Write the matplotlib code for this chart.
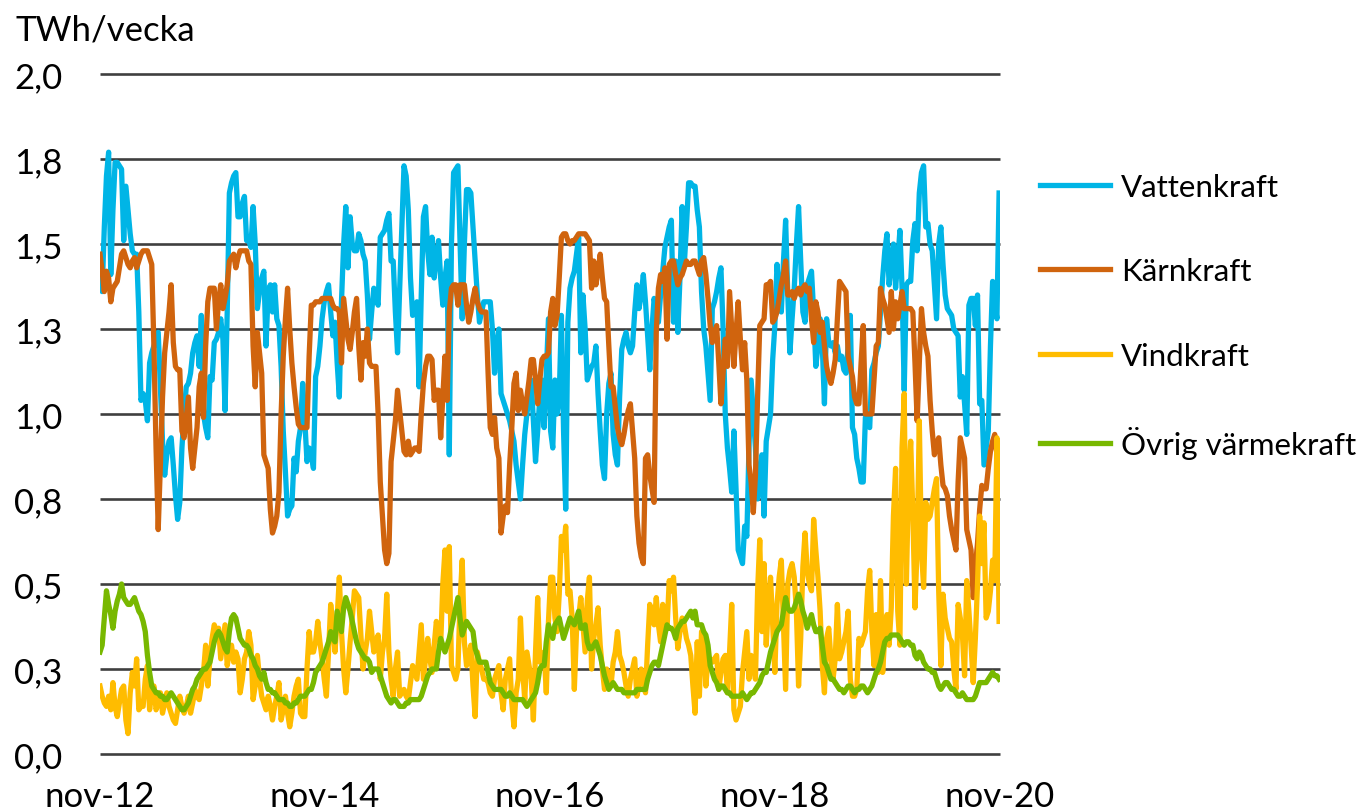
"""
Veckoproduktion per kraftslag, nov-12 -- nov-20 (TWh/vecka).
Writes out.png (1360x812).
"""
import matplotlib
matplotlib.use("Agg")  # headless
import matplotlib.dates as mdates
import matplotlib.pyplot as plt
import numpy as np
import pandas as pd
from matplotlib.ticker import FuncFormatter

plt.rcParams["font.family"] = ["Lato", "DejaVu Sans"]

START = "2012-11-01"
END = "2020-11-01"

# weekly values, TWh/vecka x 100
vattenkraft = [
    143, 136, 155, 170, 177, 141, 160, 174, 174, 173, 172, 151, 167, 160, 153, 148, 147, 147, 130, 104,
    106, 104, 98, 115, 118, 120, 122, 124, 108, 92, 82, 88, 92, 93, 85, 76, 69, 74, 90, 100,
    108, 109, 112, 118, 121, 123, 114, 129, 100, 96, 93, 111, 110, 121, 122, 124, 128, 122, 101, 130,
    165, 168, 170, 171, 158, 158, 162, 164, 151, 151, 149, 161, 150, 131, 136, 140, 142, 120, 136, 138,
    130, 138, 128, 126, 114, 95, 83, 70, 72, 73, 87, 83, 92, 96, 109, 98, 86, 90, 88, 84,
    111, 114, 120, 128, 133, 136, 138, 130, 123, 127, 115, 105, 133, 150, 161, 143, 158, 150, 148, 148,
    153, 151, 147, 145, 135, 122, 130, 137, 134, 132, 152, 153, 154, 157, 159, 145, 145, 130, 118, 137,
    155, 173, 170, 160, 140, 129, 131, 133, 108, 135, 158, 161, 148, 141, 152, 140, 146, 151, 140, 132,
    140, 145, 88, 150, 171, 172, 173, 150, 128, 150, 166, 166, 165, 155, 145, 135, 127, 130, 133, 133,
    133, 133, 125, 112, 120, 125, 106, 104, 102, 100, 98, 95, 92, 85, 80, 75, 85, 94, 100, 105,
    110, 98, 86, 95, 105, 110, 96, 112, 128, 95, 90, 110, 100, 105, 129, 95, 72, 127, 137, 140,
    142, 147, 152, 118, 135, 125, 110, 112, 114, 115, 120, 106, 95, 85, 81, 100, 109, 112, 94, 88,
    85, 105, 119, 122, 124, 120, 118, 120, 130, 138, 131, 135, 141, 133, 123, 113, 125, 134, 130, 127,
    135, 142, 149, 152, 155, 157, 127, 145, 124, 140, 161, 144, 155, 168, 168, 167, 167, 160, 155, 136,
    125, 120, 112, 104, 131, 133, 136, 140, 143, 125, 100, 90, 84, 77, 95, 78, 60, 58, 56, 67,
    64, 90, 110, 100, 90, 75, 80, 88, 70, 92, 96, 100, 116, 126, 144, 136, 130, 145, 157, 135,
    118, 128, 137, 150, 161, 145, 130, 127, 138, 140, 142, 130, 114, 120, 128, 120, 103, 128, 121, 120,
    121, 118, 120, 116, 117, 113, 112, 120, 129, 96, 94, 87, 84, 80, 80, 99, 97, 96, 113, 115,
    118, 120, 130, 140, 148, 153, 138, 145, 150, 137, 145, 154, 137, 107, 138, 139, 139, 151, 156, 148,
    165, 171, 173, 155, 156, 150, 148, 138, 128, 150, 155, 144, 135, 131, 130, 129, 125, 124, 123, 105,
    111, 103, 94, 132, 134, 134, 126, 135, 103, 104, 85, 90, 95, 120, 139, 133, 128, 165,
]

karnkraft = [
    147, 142, 136, 142, 140, 133, 137, 138, 139, 143, 147, 148, 146, 144, 143, 145, 146, 143, 145, 147,
    148, 148, 148, 146, 144, 120, 90, 66, 85, 105, 118, 124, 130, 138, 121, 114, 113, 113, 95, 93,
    99, 105, 90, 84, 90, 96, 108, 112, 99, 120, 133, 137, 137, 137, 125, 133, 138, 131, 134, 138,
    145, 146, 147, 143, 146, 148, 148, 148, 148, 145, 144, 120, 108, 124, 118, 112, 88, 86, 84, 72,
    65, 67, 70, 77, 100, 117, 128, 137, 125, 115, 108, 102, 97, 96, 96, 96, 96, 117, 132, 132,
    133, 133, 133, 134, 134, 134, 134, 134, 132, 131, 131, 130, 115, 134, 128, 122, 119, 124, 130, 134,
    120, 110, 121, 117, 125, 115, 114, 114, 114, 100, 80, 70, 60, 56, 59, 86, 92, 98, 107, 101,
    95, 89, 88, 92, 88, 89, 90, 90, 89, 100, 109, 114, 117, 117, 116, 104, 107, 107, 93, 105,
    117, 104, 130, 137, 138, 138, 132, 138, 138, 138, 132, 127, 130, 134, 137, 133, 131, 130, 130, 130,
    112, 96, 94, 99, 90, 87, 65, 70, 73, 71, 85, 96, 109, 112, 101, 107, 103, 100, 105, 110,
    116, 116, 110, 103, 110, 116, 117, 117, 118, 130, 134, 126, 129, 140, 152, 153, 153, 151, 150, 151,
    151, 152, 153, 153, 153, 153, 152, 151, 137, 145, 138, 142, 147, 140, 134, 133, 120, 108, 108, 102,
    96, 93, 91, 94, 98, 101, 103, 95, 87, 70, 62, 58, 56, 87, 88, 82, 78, 74, 124, 137,
    141, 139, 143, 122, 144, 145, 145, 141, 138, 140, 141, 143, 145, 144, 144, 145, 145, 143, 141, 145,
    146, 141, 134, 126, 121, 124, 126, 115, 103, 112, 122, 114, 136, 125, 114, 124, 133, 122, 113, 121,
    110, 85, 80, 71, 82, 105, 126, 127, 128, 138, 138, 139, 127, 128, 130, 134, 138, 141, 145, 135,
    135, 136, 134, 136, 137, 135, 137, 138, 136, 137, 128, 121, 133, 130, 124, 127, 120, 114, 111, 109,
    112, 116, 128, 139, 138, 137, 136, 117, 114, 111, 105, 103, 103, 115, 126, 100, 100, 100, 100, 110,
    120, 121, 137, 134, 132, 128, 124, 136, 125, 133, 128, 132, 136, 131, 131, 131, 131, 130, 115, 98,
    115, 131, 124, 120, 117, 104, 95, 88, 91, 93, 85, 79, 78, 76, 70, 66, 63, 60, 80, 93,
    90, 87, 66, 63, 60, 46, 55, 62, 72, 79, 78, 78, 84, 89, 92, 94, 88, 83,
]

vindkraft = [
    20, 17, 15, 14, 17, 13, 21, 14, 11, 15, 19, 20, 10, 6, 18, 24, 20, 28, 13, 14,
    14, 22, 26, 13, 18, 20, 13, 15, 18, 12, 15, 18, 14, 12, 10, 9, 13, 17, 14, 12,
    14, 17, 12, 15, 19, 17, 16, 20, 24, 32, 20, 28, 34, 38, 36, 37, 28, 33, 38, 26,
    30, 32, 27, 30, 28, 18, 22, 28, 30, 36, 32, 16, 20, 29, 22, 17, 15, 13, 17, 14,
    10, 14, 17, 21, 10, 13, 17, 12, 8, 12, 17, 20, 22, 12, 11, 11, 25, 36, 30, 30,
    33, 39, 33, 28, 22, 17, 30, 44, 38, 30, 40, 52, 36, 25, 18, 25, 33, 40, 48, 47,
    46, 35, 25, 30, 34, 42, 36, 30, 33, 35, 22, 30, 34, 47, 30, 22, 17, 25, 30, 17,
    18, 19, 17, 16, 21, 26, 24, 22, 30, 38, 22, 28, 34, 28, 24, 32, 39, 35, 32, 50,
    60, 42, 61, 26, 24, 22, 25, 45, 57, 33, 26, 28, 32, 20, 11, 30, 27, 25, 22, 22,
    21, 18, 17, 22, 24, 26, 18, 13, 22, 25, 28, 15, 8, 18, 22, 40, 25, 16, 30, 26,
    22, 10, 30, 46, 27, 29, 30, 18, 39, 52, 52, 40, 36, 47, 64, 60, 67, 47, 48, 40,
    19, 36, 40, 46, 38, 30, 45, 52, 25, 34, 38, 43, 32, 25, 19, 25, 22, 20, 27, 30,
    36, 29, 27, 24, 20, 17, 22, 25, 28, 17, 20, 25, 22, 18, 32, 44, 40, 38, 46, 38,
    33, 44, 40, 37, 51, 48, 52, 40, 31, 36, 40, 38, 34, 32, 29, 20, 12, 33, 17, 36,
    35, 20, 28, 28, 27, 28, 29, 19, 24, 28, 29, 18, 30, 44, 13, 10, 12, 14, 24, 30,
    36, 22, 29, 26, 22, 48, 63, 36, 56, 32, 44, 52, 38, 24, 44, 52, 57, 38, 19, 50,
    54, 56, 52, 42, 20, 34, 55, 65, 54, 50, 48, 69, 60, 52, 42, 26, 18, 34, 37, 28,
    22, 28, 44, 28, 30, 33, 36, 42, 22, 17, 17, 19, 34, 32, 34, 36, 48, 54, 36, 26,
    41, 24, 51, 24, 35, 41, 32, 43, 70, 84, 42, 32, 90, 106, 50, 80, 92, 71, 43, 61,
    98, 60, 49, 74, 69, 70, 74, 78, 81, 48, 26, 47, 40, 37, 34, 33, 25, 19, 44, 40,
    35, 23, 51, 42, 32, 21, 34, 50, 70, 56, 68, 40, 42, 48, 57, 51, 93, 39,
]

ovrig_varmekraft = [
    30, 32, 40, 48, 44, 41, 37, 42, 45, 47, 50, 46, 45, 44, 44, 45, 46, 44, 42, 41,
    39, 36, 29, 24, 20, 19, 18, 18, 17, 17, 16, 16, 17, 18, 17, 16, 15, 14, 13, 13,
    14, 15, 17, 19, 20, 22, 23, 24, 25, 25, 26, 27, 30, 33, 35, 36, 35, 33, 31, 30,
    36, 40, 41, 40, 37, 34, 33, 32, 32, 31, 29, 28, 26, 25, 23, 22, 24, 21, 19, 19,
    18, 18, 17, 16, 16, 16, 15, 15, 14, 14, 15, 15, 16, 17, 17, 17, 18, 19, 19, 21,
    24, 25, 26, 27, 29, 31, 33, 36, 34, 33, 42, 39, 36, 43, 46, 44, 42, 39, 36, 33,
    31, 30, 29, 28, 28, 27, 24, 25, 25, 25, 23, 21, 19, 17, 16, 15, 16, 16, 15, 14,
    14, 14, 15, 15, 16, 16, 16, 16, 16, 17, 19, 21, 23, 24, 25, 25, 25, 30, 34, 32,
    30, 32, 34, 37, 40, 43, 46, 40, 35, 37, 39, 38, 37, 36, 31, 29, 27, 27, 27, 27,
    24, 21, 20, 19, 19, 19, 19, 18, 17, 17, 18, 17, 16, 16, 16, 16, 16, 15, 14, 15,
    16, 17, 18, 21, 25, 26, 26, 33, 38, 36, 34, 38, 39, 40, 37, 34, 36, 38, 40, 39,
    38, 40, 42, 37, 37, 38, 33, 31, 31, 32, 33, 31, 29, 26, 23, 21, 19, 20, 21, 20,
    19, 19, 19, 18, 18, 18, 18, 18, 18, 19, 19, 19, 19, 19, 22, 24, 26, 27, 27, 26,
    29, 32, 35, 38, 37, 37, 36, 34, 37, 38, 39, 39, 40, 41, 42, 40, 42, 38, 38, 38,
    36, 35, 32, 26, 24, 22, 21, 19, 20, 20, 19, 18, 18, 17, 17, 17, 17, 17, 18, 17,
    16, 17, 18, 18, 19, 20, 21, 23, 24, 24, 27, 30, 32, 34, 36, 37, 38, 42, 46, 43,
    42, 42, 43, 45, 47, 45, 42, 40, 37, 39, 41, 38, 36, 36, 37, 32, 27, 26, 24, 22,
    22, 21, 20, 19, 19, 18, 19, 20, 20, 19, 18, 19, 19, 20, 20, 19, 18, 19, 20, 22,
    24, 25, 27, 30, 33, 34, 34, 35, 35, 35, 35, 34, 33, 32, 33, 33, 32, 32, 29, 28,
    30, 29, 27, 26, 25, 25, 24, 24, 22, 20, 19, 20, 21, 21, 20, 19, 19, 18, 17, 17,
    18, 17, 16, 16, 16, 16, 17, 19, 21, 21, 21, 21, 22, 23, 24, 23, 23, 22,
]

series_names = ["Vattenkraft", "Kärnkraft", "Vindkraft", "Övrig värmekraft"]
y_ticks = [0.0, 0.25, 0.5, 0.75, 1.0, 1.25, 1.5, 1.75, 2.0]
y_labels = ["0,0", "0,3", "0,5", "0,8", "1,0", "1,3", "1,5", "1,8", "2,0"]
x_ticks = ["2012-11-01", "2014-11-01", "2016-11-01", "2018-11-01", "2020-11-01"]
SV_MONTHS = ["jan", "feb", "mar", "apr", "maj", "jun",
             "jul", "aug", "sep", "okt", "nov", "dec"]

COLORS = ["#00B5E6", "#D0640E", "#FFBC00", "#78B800"]
GRID = "#3f3f3f"
FS = 25          # axis text
FS_LEGEND = 22.5


def sv_date(x, _pos):
    d = mdates.num2date(x)
    return f"{SV_MONTHS[d.month - 1]}-{d:%y}"


def main() -> None:
    data = [vattenkraft, karnkraft, vindkraft, ovrig_varmekraft]
    dates = pd.date_range(START, periods=len(vattenkraft), freq="7D")

    fig = plt.figure(figsize=(13.6, 8.12), dpi=100)
    ax = fig.add_axes([100 / 1360, 57 / 812, 900 / 1360, 680 / 812])

    x0, x1 = pd.Timestamp(START), pd.Timestamp(END)
    ax.hlines(y_ticks, x0, x1, colors=GRID, lw=1.9, zorder=1, clip_on=False)

    for name, vals, color in zip(series_names, data, COLORS):
        ax.plot(dates, np.array(vals) / 100, color=color, lw=3.8,
                solid_joinstyle="round", label=name, zorder=2)

    ax.set_xlim(x0, x1)
    ax.set_ylim(0, 2.0)
    ax.set_yticks(y_ticks, y_labels)
    ax.set_xticks(pd.to_datetime(x_ticks))
    ax.xaxis.set_major_formatter(FuncFormatter(sv_date))
    for s in ax.spines.values():
        s.set_visible(False)
    ax.tick_params(axis="both", length=0, labelsize=FS, colors="black")
    ax.tick_params(axis="y", pad=27)
    ax.tick_params(axis="x", pad=19)

    fig.text(16 / 1360, 1 - 30 / 812, "TWh/vecka", fontsize=FS, va="center", ha="left")

    ax.legend(loc="center left", bbox_to_anchor=(1040 / 1360, 1 - 317 / 812),
              bbox_transform=fig.transFigure, frameon=False, fontsize=FS_LEGEND,
              handlelength=2.25, handletextpad=0.35, labelspacing=1.8,
              borderpad=0, borderaxespad=0)

    fig.savefig("out.png", dpi=100)
    plt.close(fig)


if __name__ == "__main__":
    main()
